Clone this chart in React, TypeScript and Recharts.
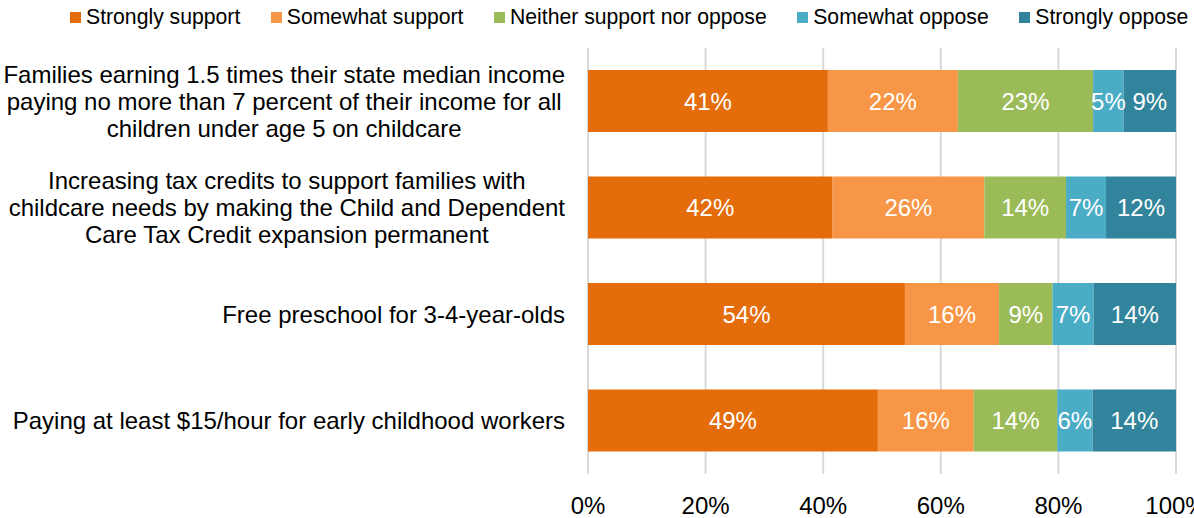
import { BarChart, Bar, XAxis, YAxis, CartesianGrid, Legend, LabelList } from "recharts";

const categories = [
  "Families earning 1.5 times their state median income\npaying no more than 7 percent of their income for all\nchildren under age 5 on childcare",
  "Increasing tax credits to support families with\nchildcare needs by making the Child and Dependent\nCare Tax Credit expansion permanent",
  "Free preschool for 3-4-year-olds",
  "Paying at least $15/hour for early childhood workers",
];
const stronglySupport = [40.8, 41.6, 53.9, 49.3];
const somewhatSupport = [22.1, 25.8, 16.0, 16.3];
const neither = [23.0, 13.9, 9.1, 14.2];
const somewhatOppose = [5.2, 6.8, 7.0, 6.0];
const stronglyOppose = [8.9, 11.9, 14.0, 14.2];
const xTicks = [0, 20, 40, 60, 80, 100];

const series = [
  { key: "stronglySupport", name: "Strongly support", color: "#E46C0A", values: stronglySupport },
  { key: "somewhatSupport", name: "Somewhat support", color: "#F79646", values: somewhatSupport },
  { key: "neither", name: "Neither support nor oppose", color: "#9BBB59", values: neither },
  { key: "somewhatOppose", name: "Somewhat oppose", color: "#4BACC6", values: somewhatOppose },
  { key: "stronglyOppose", name: "Strongly oppose", color: "#31849B", values: stronglyOppose },
];

const data = categories.map((category, i) => {
  const row: Record<string, string | number> = { category };
  series.forEach((s) => (row[s.key] = s.values[i]));
  return row;
});

const FONT = '"Liberation Sans", Arial, sans-serif';

let ctx: CanvasRenderingContext2D | null = null;
function textWidth(s: string) {
  if (!ctx) ctx = document.createElement("canvas").getContext("2d");
  if (!ctx) return s.length * 12;
  ctx.font = `24px ${FONT}`;
  return ctx.measureText(s).width;
}

// multi-line labels are centred on their widest line, block right-aligned to the plot
function CategoryTick({ x, y, payload }: any) {
  const lines = String(payload.value).split("\n");
  const right = x - 23;
  const w = Math.max(...lines.map(textWidth));
  const cx = right - w / 2;
  return (
    <text x={cx} y={y} textAnchor="middle" fontSize={24} fontFamily={FONT} fill="#000">
      {lines.map((l, i) => (
        <tspan key={i} x={cx} y={y + (i - (lines.length - 1) / 2) * 27} dy="0.35em">
          {l}
        </tspan>
      ))}
    </text>
  );
}

function LegendContent() {
  return (
    <div
      style={{
        display: "flex",
        alignItems: "center",
        height: 34,
        paddingLeft: 70,
        fontFamily: FONT,
        fontSize: 21.2,
        color: "#000",
        whiteSpace: "nowrap",
      }}
    >
      {series.map((s) => (
        <div key={s.key} style={{ display: "flex", alignItems: "center", marginRight: 30.5 }}>
          <span style={{ width: 11, height: 11, background: s.color, marginRight: 5 }} />
          <span>{s.name}</span>
        </div>
      ))}
    </div>
  );
}

export default function App() {
  return (
    <div
      style={{
        position: "absolute",
        left: 0,
        top: 0,
        width: 1194,
        height: 518,
        overflow: "hidden",
        background: "#fff",
      }}
    >
      <BarChart
        layout="vertical"
        width={1194}
        height={518}
        data={data}
        barSize={62}
        margin={{ top: 14, right: 18, bottom: 0, left: 0 }}
      >
        <CartesianGrid horizontal={false} stroke="#D9D9D9" strokeWidth={2} />
        <XAxis
          type="number"
          domain={[0, 100]}
          ticks={xTicks}
          interval={0}
          tickFormatter={(v) => `${v}%`}
          height={44}
          tickSize={0}
          tickMargin={23}
          axisLine={false}
          tickLine={false}
          tick={{ fontSize: 24, fill: "#000", fontFamily: FONT }}
        />
        <YAxis
          type="category"
          dataKey="category"
          width={588}
          interval={0}
          tickSize={0}
          tickMargin={0}
          axisLine={false}
          tickLine={false}
          tick={<CategoryTick />}
        />
        <Legend
          verticalAlign="top"
          content={<LegendContent />}
          wrapperStyle={{ top: 0, left: 0, width: 1194 }}
        />
        {series.map((s) => (
          <Bar key={s.key} dataKey={s.key} name={s.name} stackId="a" fill={s.color} isAnimationActive={false}>
            <LabelList
              dataKey={s.key}
              position="center"
              fill="#fff"
              fontSize={24}
              fontFamily={FONT}
              formatter={(v: any) => `${Math.round(Number(v))}%`}
            />
          </Bar>
        ))}
      </BarChart>
    </div>
  );
}
